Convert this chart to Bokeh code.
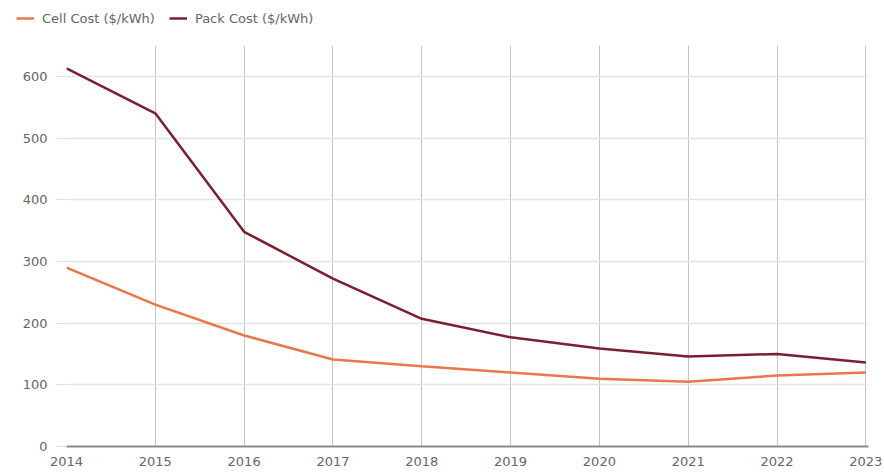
from bokeh.plotting import figure
from bokeh.layouts import column
from bokeh.models import Range1d, Legend, LegendItem, FixedTicker
from bokeh.embed import file_html
from bokeh.resources import INLINE

years = [2014, 2015, 2016, 2017, 2018, 2019, 2020, 2021, 2022, 2023]
cell_cost = [290, 230, 180, 141, 130, 120, 110, 105, 115, 120]
pack_cost = [613, 540, 348, 272, 207, 177, 159, 146, 150, 136]
y_ticks = [0, 100, 200, 300, 400, 500, 600]
series_names = ["Cell Cost ($/kWh)", "Pack Cost ($/kWh)"]
series_colors = ["#E8784C", "#7A1F2E"]

FONT = "DejaVu Sans"
TXT = "#666666"

# legend strip (its line renderers lie outside its visible range)
top = figure(width=884, height=36, output_backend="svg", toolbar_location=None,
             x_range=Range1d(0, 1), y_range=Range1d(0, 1),
             x_axis_location=None, y_axis_location=None)
top.frame_align = False
top.grid.visible = False
top.outline_line_color = None
top.min_border = 0
top.min_border_left = 0
top.min_border_right = 0
top.min_border_top = 0
top.min_border_bottom = 0
lr1 = top.line(years, cell_cost, line_color=series_colors[0], line_width=2.5)
lr2 = top.line(years, pack_cost, line_color=series_colors[1], line_width=2.5)
legend = Legend(items=[LegendItem(label=series_names[0], renderers=[lr1]),
                       LegendItem(label=series_names[1], renderers=[lr2])],
                orientation="horizontal", location=(16, 8))
legend.border_line_color = None
legend.background_fill_alpha = 0
legend.label_text_font = FONT
legend.label_text_font_size = "13px"
legend.label_text_color = TXT
legend.glyph_width = 18
legend.label_standoff = 8
legend.spacing = 14
legend.padding = 4
legend.margin = 0
top.add_layout(legend)

p = figure(width=884, height=440, output_backend="svg", toolbar_location=None,
           x_range=Range1d(2014, 2023.03), y_range=Range1d(0, 650))
p.frame_align = False
p.min_border_left = 66
p.min_border_right = 16
p.min_border_bottom = 30
p.min_border_top = 9
p.outline_line_color = None

p.line(years, cell_cost, line_color=series_colors[0], line_width=2.5)
p.line(years, pack_cost, line_color=series_colors[1], line_width=2.5)

p.xaxis.ticker = FixedTicker(ticks=years)
p.yaxis.ticker = FixedTicker(ticks=y_ticks)
p.xaxis.major_label_text_font = FONT
p.yaxis.major_label_text_font = FONT
p.xaxis.major_label_text_font_size = "13px"
p.yaxis.major_label_text_font_size = "13px"
p.xaxis.major_label_text_color = TXT
p.yaxis.major_label_text_color = TXT
p.xaxis.axis_line_color = "#8a8a8a"
p.xaxis.axis_line_width = 2
p.xaxis.major_tick_line_color = None
p.xaxis.minor_tick_line_color = None
p.xaxis.major_label_standoff = 4
p.yaxis.axis_line_color = None
p.yaxis.major_tick_line_color = "#dddddd"
p.yaxis.major_tick_out = 10
p.yaxis.major_tick_in = 0
p.yaxis.minor_tick_line_color = None
p.yaxis.major_label_standoff = 9

p.xgrid.grid_line_color = "#c4c4c4"
p.ygrid.grid_line_color = "#e2e2e2"
p.ygrid.grid_line_width = 1.5

layout = column(top, p, spacing=0)
open("out.html", "w").write(file_html(layout, INLINE))
